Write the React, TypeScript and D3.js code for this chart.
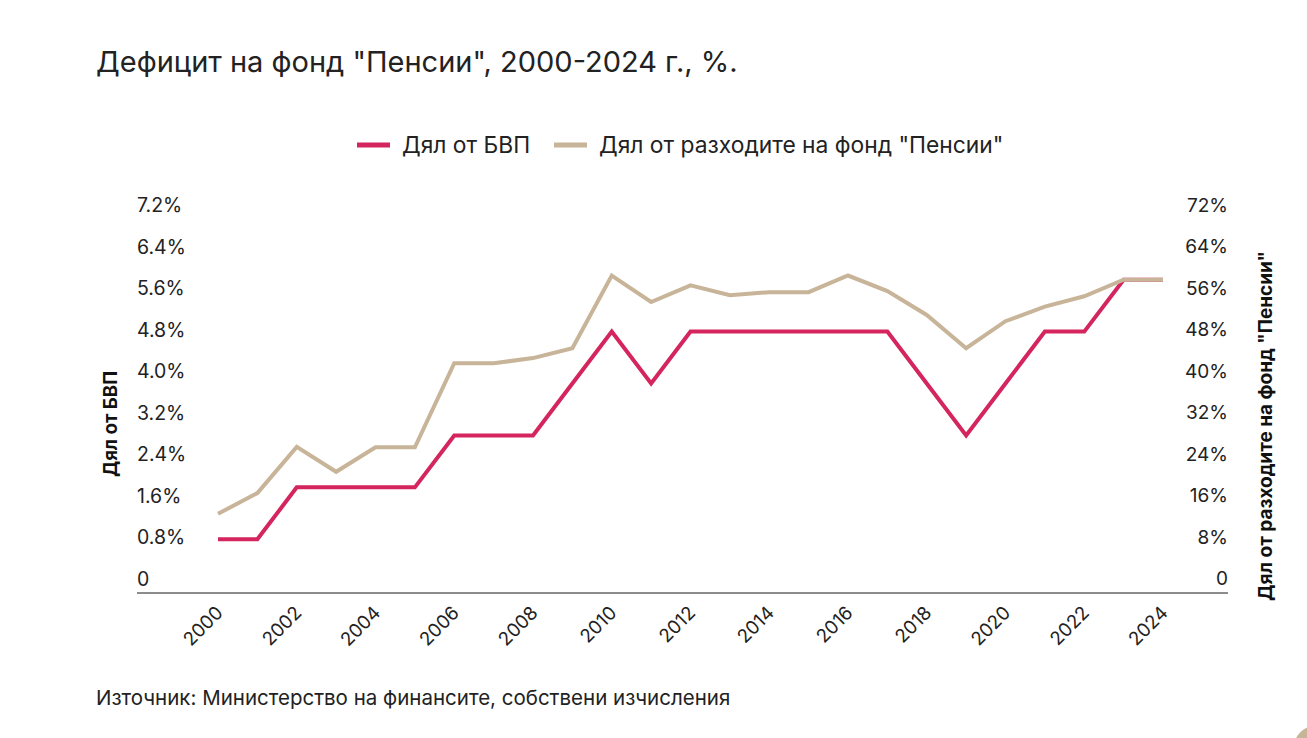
import * as d3 from "d3";
import { useEffect, useRef } from "react";

const years: number[] = d3.range(2000, 2025);
// Дял от БВП, %
const gdpShare: number[] = [
    0.8, 0.8, 1.8, 1.8, 1.8, 1.8, 2.8, 2.8, 2.8, 3.8, 4.8, 3.8, 4.8, 4.8, 4.8,
    4.8, 4.8, 4.8, 3.8, 2.8, 3.8, 4.8, 4.8, 5.8, 5.8,
];
// Дял от разходите на фонд "Пенсии", %
const expShare: number[] = [
    12.9, 16.9, 25.8, 21.0, 25.7, 25.7, 41.9, 41.9, 42.9, 44.8, 58.8, 53.7,
    56.9, 55.0, 55.6, 55.6, 58.8, 55.8, 51.2, 44.8, 50.0, 52.8, 54.8, 58.0,
    58.0,
];
const leftTicks: number[] = [0, 0.8, 1.6, 2.4, 3.2, 4.0, 4.8, 5.6, 6.4, 7.2];
const rightTicks: number[] = [0, 8, 16, 24, 32, 40, 48, 56, 64, 72];
const xTickYears: number[] = d3.range(2000, 2025, 2);

const title = 'Дефицит на фонд "Пенсии", 2000-2024 г., %.';
const seriesNames = ["Дял от БВП", 'Дял от разходите на фонд "Пенсии"'];
const leftTitle = "Дял от БВП";
const rightTitle = 'Дял от разходите на фонд "Пенсии"';
const source = "Източник: Министерство на финансите, собствени изчисления";

const RED = "#d4255e";
const TAN = "#c8b498";
const FONT = "Inter, 'Noto Sans', sans-serif";

export default function App() {
    const ref = useRef<SVGSVGElement | null>(null);

    useEffect(() => {
        const width = 1307;
        const height = 738;
        const svg = d3.select(ref.current);
        svg.selectAll("*").remove();
        svg.attr("width", width).attr("height", height);

        const x = d3.scaleLinear([2000, 2024], [218, 1163]);
        const yL = d3.scaleLinear([0, 7.2], [580.8, 207]);
        const yR = d3.scaleLinear([0, 72], [580.8, 207]);

        svg.append("rect")
            .attr("width", width)
            .attr("height", height)
            .attr("fill", "#fff");

        svg.append("text")
            .attr("x", 96)
            .attr("y", 72)
            .attr("font-family", FONT)
            .attr("font-size", 29)
            .attr("fill", "#222")
            .text(title);

        // legend
        const legend = [
            { name: seriesNames[0], color: RED, x: 357 },
            { name: seriesNames[1], color: TAN, x: 554 },
        ];
        const lg = svg.append("g");
        legend.forEach((l) => {
            lg.append("line")
                .attr("x1", l.x)
                .attr("x2", l.x + 33)
                .attr("y1", 145)
                .attr("y2", 145)
                .attr("stroke", l.color)
                .attr("stroke-width", 5);
            lg.append("text")
                .attr("x", l.x + 45)
                .attr("y", 153)
                .attr("font-family", FONT)
                .attr("font-size", 22.8)
                .attr("fill", "#222")
                .text(l.name);
        });

        // left ticks
        svg.append("g")
            .selectAll("text")
            .data(leftTicks)
            .join("text")
            .attr("x", 137)
            .attr("y", (d) => yL(d) - 2)
            .attr("dominant-baseline", "central")
            .attr("font-family", FONT)
            .attr("font-size", 19.5)
            .attr("fill", "#222")
            .text((d) => (d === 0 ? "0" : d.toFixed(1) + "%"));

        // right ticks
        svg.append("g")
            .selectAll("text")
            .data(rightTicks)
            .join("text")
            .attr("x", 1228)
            .attr("y", (d) => yR(d) - 2)
            .attr("text-anchor", "end")
            .attr("dominant-baseline", "central")
            .attr("font-family", FONT)
            .attr("font-size", 19)
            .attr("fill", "#222")
            .text((d) => (d === 0 ? "0" : d + "%"));

        // axis titles
        svg.append("text")
            .attr("transform", `translate(117, 424) rotate(-90)`)
            .attr("text-anchor", "middle")
            .attr("font-family", FONT)
            .attr("font-weight", 700)
            .attr("font-size", 18.6)
            .attr("fill", "#111")
            .text(leftTitle);
        svg.append("text")
            .attr("transform", `translate(1272, 426) rotate(-90)`)
            .attr("text-anchor", "middle")
            .attr("font-family", FONT)
            .attr("font-weight", 700)
            .attr("font-size", 19)
            .attr("fill", "#111")
            .text(rightTitle);

        // x axis line
        svg.append("line")
            .attr("x1", 137)
            .attr("x2", 1228)
            .attr("y1", 593)
            .attr("y2", 593)
            .attr("stroke", "#666")
            .attr("stroke-width", 1.5);

        // x labels
        svg.append("g")
            .selectAll("text")
            .data(xTickYears)
            .join("text")
            .attr(
                "transform",
                (d) => `translate(${x(d) + 6}, ${614}) rotate(-45)`
            )
            .attr("text-anchor", "end")
            .attr("font-family", FONT)
            .attr("font-size", 18.7)
            .attr("fill", "#222")
            .text((d) => String(d));

        // lines
        const lineL = d3
            .line<number>()
            .x((_, i) => x(years[i]))
            .y((d) => yL(d));
        const lineR = d3
            .line<number>()
            .x((_, i) => x(years[i]))
            .y((d) => yR(d));

        svg.append("path")
            .datum(gdpShare)
            .attr("d", lineL)
            .attr("fill", "none")
            .attr("stroke", RED)
            .attr("stroke-width", 4);
        svg.append("path")
            .datum(expShare)
            .attr("d", lineR)
            .attr("fill", "none")
            .attr("stroke", TAN)
            .attr("stroke-width", 4);

        // source
        svg.append("text")
            .attr("x", 96)
            .attr("y", 705)
            .attr("font-family", FONT)
            .attr("font-size", 20.5)
            .attr("fill", "#222")
            .text(source);

        // corner decoration
        svg.append("circle")
            .attr("cx", 1318)
            .attr("cy", 750)
            .attr("r", 25)
            .attr("fill", TAN);
    }, []);

    return (
        <svg
            ref={ref}
            style={{ position: "absolute", left: 0, top: 0, display: "block" }}
        />
    );
}
